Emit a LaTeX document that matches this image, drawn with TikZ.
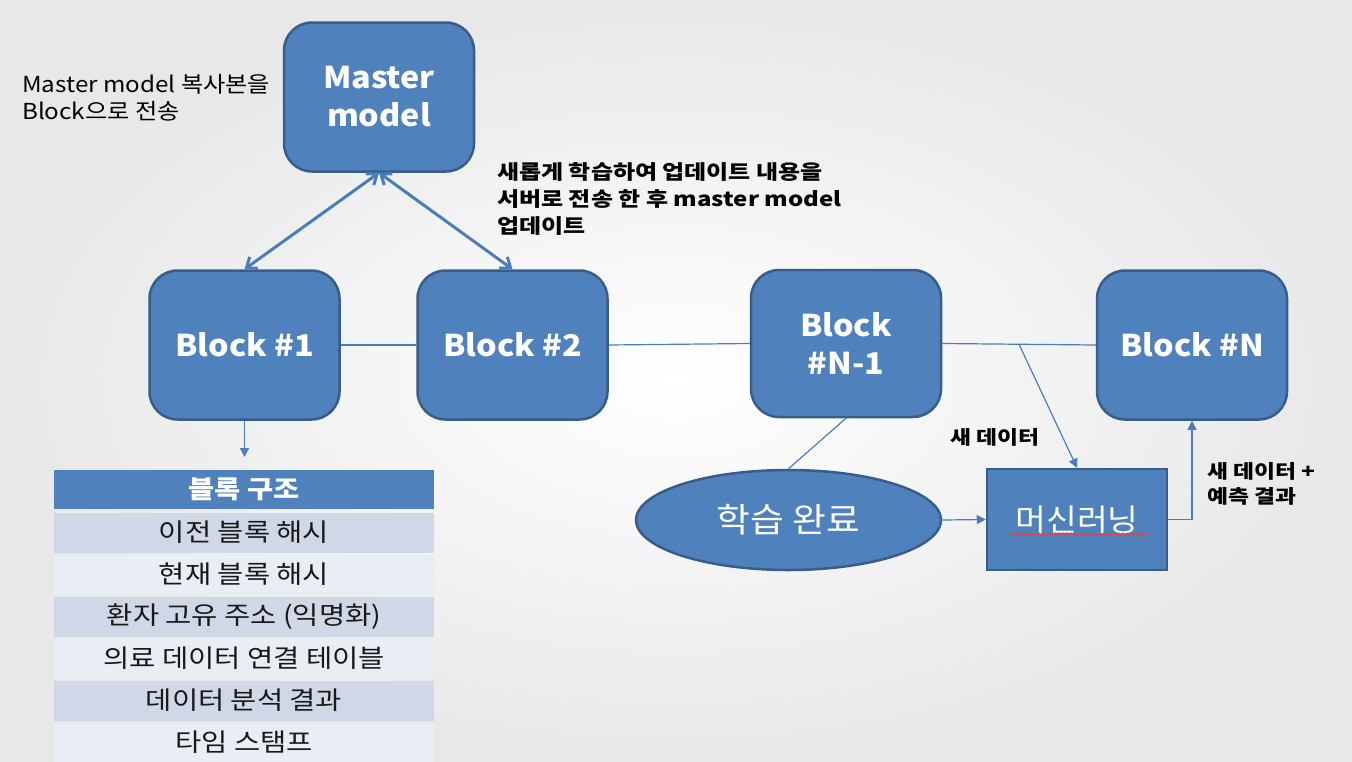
\documentclass[tikz,border=0pt]{standalone}
\usepackage{fontspec}
\setmainfont{Noto Sans CJK KR}
\newfontfamily\krA{Noto Sans CJK KR}[FakeStretch=1.10]
\newfontfamily\krB{Noto Sans CJK KR}[FakeStretch=1.20]
\newfontfamily\krC{Noto Sans CJK KR}[FakeStretch=1.14]
\newfontfamily\krD{Noto Sans CJK KR}[FakeStretch=1.08]
\usetikzlibrary{arrows.meta,shapes.geometric,decorations.pathmorphing,calc}
\definecolor{mainc}{HTML}{4F81BD}
\definecolor{bordc}{HTML}{385D8A}
\definecolor{linec}{HTML}{4A7EBB}
\definecolor{rowa}{HTML}{D0D8E8}
\definecolor{rowb}{HTML}{E9EDF4}
\begin{document}
\begin{tikzpicture}[x=1pt,y=-1pt,
  blk/.style={draw=bordc, line width=2.5pt, fill=mainc, rounded corners=28pt,
    minimum width=190pt, minimum height=149pt, text=white, inner sep=0pt,
    font=\krD\fontsize{30}{38}\selectfont\bfseries, align=center},
  dbl/.style={draw=linec, line width=3pt, {Straight Barb[length=9pt,width=14pt]}-{Straight Barb[length=9pt,width=14pt]}},
  conn/.style={draw=linec, line width=1.2pt},
  arr/.style={conn, -{Triangle[length=9pt,width=9pt]}},
  hdr/.style={fill=mainc, minimum width=380pt, minimum height=39pt, inner sep=0pt,
    text=white, font=\krC\fontsize{25}{28}\selectfont\bfseries},
  rowA/.style={fill=rowa, minimum width=380pt, minimum height=40pt, inner sep=0pt,
    text=black!90, font=\krC\fontsize{25}{28}\selectfont},
  rowB/.style={rowA, fill=rowb},
  lab/.style={text=black, align=left, inner sep=0pt, anchor=north west}
]
\useasboundingbox (0,0) rectangle (1352,761);
\shade[inner color=white, outer color=black!9] (0,0) rectangle (1352,761);

% blocks
\node[blk] (master) at (379,97) {Master\\model};
\node[blk] (b1) at (244.5,345) {Block \#1};
\node[blk] (b2) at (512.5,345) {Block \#2};
\node[blk, minimum height=147pt] (bn1) at (846,343.5) {Block\\\#N-1};
\node[blk] (bn) at (1192,345) {Block \#N};
\node[ellipse, draw=bordc, line width=2.5pt, fill=mainc, minimum width=305pt,
  minimum height=100pt, text=white, font=\krD\fontsize{34}{38}\selectfont] (done) at (788.5,520) {학습 완료};
\node[draw=bordc, line width=2.5pt, fill=mainc, minimum width=180pt, minimum height=101pt,
  inner sep=0pt, text=white, font=\krD\fontsize{31}{38}\selectfont] (ml) at (1077,519.5) {머신러닝};
\draw[red!80, line width=0.7pt, decorate, decoration={snake, amplitude=1.1pt, segment length=4pt}]
  (1010,534) -- (1147,534);

% table
\node[hdr] (th) at (244,489.5) {블록 구조};
\node[rowA] (r1) at (244,532.5) {이전 블록 해시};
\node[rowB] (r2) at (244,574.5) {현재 블록 해시};
\node[rowA] (r3) at (244,616.5) {환자 고유 주소 (익명화)};
\node[rowB] (r4) at (244,658.5) {의료 데이터 연결 테이블};
\node[rowA] (r5) at (244,700.5) {데이터 분석 결과};
\node[rowB] (r6) at (244,742.5) {타임 스탬프};

% labels
\node[lab, font=\krA\fontsize{22}{27}\selectfont] (l1) at (22,74) {Master model 복사본을\\Block으로 전송};
\node[lab, font=\krB\fontsize{20}{27}\selectfont\bfseries] (l2) at (497,162) {새롭게 학습하여 업데이트 내용을\\서버로 전송 한 후 master model\\업데이트};
\node[lab, font=\krB\fontsize{19}{25}\selectfont\bfseries] (l3) at (950,428) {새 데이터};
\node[lab, font=\krB\fontsize{19}{25}\selectfont\bfseries] (l4) at (1207,462) {새 데이터 +\\예측 결과};

% connectors
\draw[dbl] (master.south) -- (b1.north);
\draw[dbl] (master.south) -- (b2.north);
\draw[conn] (b1.east) -- (b2.west);
\draw[conn] (b2.east) -- (bn1.west);
\draw[conn] (bn1.east) -- (bn.west);
\coordinate (split) at ($(bn1.east)!0.5!(bn.west)$);
\draw[arr] (split) -- (ml.north);
\draw[conn] (bn1.south) -- (done.north);
\draw[arr] (done.east) -- (ml.west);
\draw[arr] (ml.east) -| (bn.south);
\coordinate (tabin) at (244.5,457);
\draw[arr] (b1.south) -- (tabin);
\end{tikzpicture}
\end{document}
